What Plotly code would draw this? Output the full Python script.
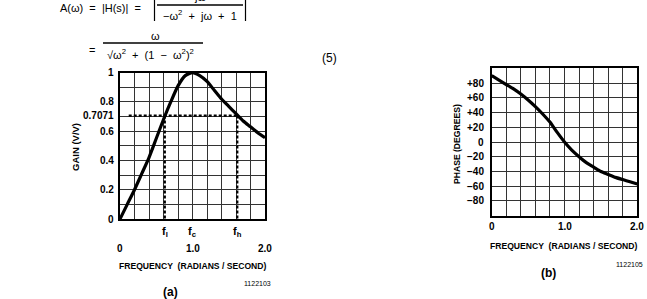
import plotly.graph_objects as go

W, H = 647, 299

# ---------------- data ----------------
freq = [0.0, 0.1, 0.2, 0.3, 0.4, 0.5, 0.6, 0.7, 0.8, 0.9, 1.0,
        1.1, 1.2, 1.3, 1.4, 1.5, 1.6, 1.7, 1.8, 1.9, 2.0]
gain = [0.0, 0.10, 0.20, 0.31, 0.42, 0.55, 0.68, 0.80, 0.91, 0.98, 1.0,
        0.98, 0.94, 0.88, 0.82, 0.77, 0.72, 0.67, 0.63, 0.59, 0.555]
phase = [90, 84, 78, 72, 65, 57, 48, 38, 27, 13, 0,
         -11, -20, -28, -34, -40, -44, -48, -51, -54, -57]

f_low, f_center, f_high = 0.618, 1.0, 1.618
half_power = 0.7071
dash_start = 0.12

gain_tickvals = [1, 0.8, 0.7071, 0.6, 0.4, 0.2, 0]
gain_ticktext = ["1", "0.8", "0.7071", "0.6", "0.4", "0.2", "0"]
phase_tickvals = [80, 60, 40, 20, 0, -20, -40, -60, -80]
phase_ticktext = ["+80", "+60", "+40", "+20", "0", "\u221220", "\u221240", "\u221260", "\u221280"]
freq_tickvals = [0, 1, 2]
freq_ticktext = ["0", "1.0", "2.0"]
f_marks = [f_low, f_center, f_high]
f_marktext = ["f<sub>l</sub>", "f<sub>c</sub>", "f<sub>h</sub>"]


def px(x):
    return x / W


def py(y):
    return 1 - y / H


FONT = "Liberation Sans"
BOLD = dict(family=FONT, size=10, color="black", weight="bold")

fig = go.Figure()

fig.add_trace(go.Scatter(x=freq, y=gain, mode="lines", xaxis="x", yaxis="y",
                         line=dict(color="black", width=3.2, shape="spline", smoothing=0.6),
                         showlegend=False, hoverinfo="skip"))
fig.add_trace(go.Scatter(x=[dash_start, f_high, None, f_low, f_low, None, f_high, f_high],
                         y=[half_power, half_power, None, half_power, 0, None, half_power, 0],
                         mode="lines", xaxis="x", yaxis="y",
                         line=dict(color="black", width=2.2, dash="3px,2px"),
                         showlegend=False, hoverinfo="skip"))
fig.add_trace(go.Scatter(x=freq, y=phase, mode="lines", xaxis="x2", yaxis="y2",
                         line=dict(color="black", width=3.2, shape="spline", smoothing=0.6),
                         showlegend=False, hoverinfo="skip"))

axis_common = dict(showticklabels=False, showgrid=True, gridcolor="#333333", gridwidth=1,
                   showline=True, mirror=True, linecolor="black", linewidth=2,
                   zeroline=False, ticks="", fixedrange=True)

fig.update_layout(
    width=W, height=H, margin=dict(l=0, r=0, t=0, b=0),
    paper_bgcolor="white", plot_bgcolor="white",
    xaxis=dict(domain=[px(120), px(265)], range=[0, 2], tick0=0, dtick=0.2, anchor="y", **axis_common),
    yaxis=dict(domain=[py(219), py(72.7)], range=[0, 1], tick0=0, dtick=0.1, anchor="x", **axis_common),
    xaxis2=dict(domain=[px(491.7), px(637.3)], range=[0, 2], tick0=0, dtick=0.2, anchor="y2", **axis_common),
    yaxis2=dict(domain=[py(215.7), py(68.3)], range=[-100, 100], tick0=-100, dtick=20, anchor="x2", **axis_common),
)

ann = []


def A(**kw):
    d = dict(showarrow=False)
    d.update(kw)
    ann.append(d)


# left chart tick labels
for v, t in zip(gain_tickvals, gain_ticktext):
    A(x=px(116), xref="paper", y=v, yref="y", text=t, xanchor="right", yanchor="middle", font=BOLD)
for v, t in zip(freq_tickvals, freq_ticktext):
    A(x=v, xref="x", y=py(248), yref="paper", text=t, xanchor="center", yanchor="middle", font=BOLD)
for v, t in zip(f_marks, f_marktext):
    A(x=v, xref="x", y=py(232), yref="paper", text=t, xanchor="center", yanchor="middle",
      font=dict(family=FONT, size=11, color="black", weight="bold"))
A(x=px(193), y=py(266), xref="paper", yref="paper", text="FREQUENCY  (RADIANS / SECOND)",
  xanchor="center", yanchor="middle", font=dict(family=FONT, size=8.6, color="black", weight="bold"))
A(x=px(75), y=py(147), xref="paper", yref="paper", text="GAIN (V/V)", textangle=-90,
  xanchor="center", yanchor="middle", font=dict(family=FONT, size=9.5, color="black", weight="bold"))
A(x=px(257), y=py(283), xref="paper", yref="paper", text="1122103",
  xanchor="center", yanchor="middle", font=dict(family=FONT, size=7, color="black"))
A(x=px(170), y=py(292), xref="paper", yref="paper", text="(a)",
  xanchor="center", yanchor="middle", font=dict(family=FONT, size=12, color="black", weight="bold"))

# right chart tick labels
for v, t in zip(phase_tickvals, phase_ticktext):
    A(x=px(486), xref="paper", y=v, yref="y2", text=t, xanchor="right", yanchor="middle", font=BOLD)
for v, t in zip(freq_tickvals, freq_ticktext):
    A(x=v, xref="x2", y=py(226), yref="paper", text=t, xanchor="center", yanchor="middle", font=BOLD)
A(x=px(564), y=py(246), xref="paper", yref="paper", text="FREQUENCY  (RADIANS / SECOND)",
  xanchor="center", yanchor="middle", font=dict(family=FONT, size=8.6, color="black", weight="bold"))
A(x=px(457), y=py(144), xref="paper", yref="paper", text="PHASE (DEGREES)", textangle=-90,
  xanchor="center", yanchor="middle", font=dict(family=FONT, size=8.6, color="black", weight="bold"))
A(x=px(629), y=py(264), xref="paper", yref="paper", text="1122105",
  xanchor="center", yanchor="middle", font=dict(family=FONT, size=7, color="black"))
A(x=px(548), y=py(273), xref="paper", yref="paper", text="(b)",
  xanchor="center", yanchor="middle", font=dict(family=FONT, size=12, color="black", weight="bold"))

# equation
EQ = dict(family=FONT, size=11, color="black")
A(x=px(58), y=py(8), xref="paper", yref="paper", text="A(\u03c9)  =  |H(s)|  =",
  xanchor="left", yanchor="middle", font=EQ)
A(x=px(200), y=py(-3), xref="paper", yref="paper", text="j\u03c9",
  xanchor="center", yanchor="middle", font=EQ)
A(x=px(200), y=py(15), xref="paper", yref="paper",
  text="\u2212\u03c9<sup>2</sup>  +  j\u03c9  +  1",
  xanchor="center", yanchor="middle", font=EQ)
A(x=px(92), y=py(50), xref="paper", yref="paper", text="=",
  xanchor="center", yanchor="middle", font=EQ)
A(x=px(155), y=py(36), xref="paper", yref="paper", text="\u03c9",
  xanchor="center", yanchor="middle", font=EQ)
A(x=px(150), y=py(54), xref="paper", yref="paper",
  text="\u221a\u03c9<sup>2</sup>  +  (1  \u2212  \u03c9<sup>2</sup>)<sup>2</sup>",
  xanchor="center", yanchor="middle", font=EQ)
A(x=px(330), y=py(58), xref="paper", yref="paper", text="(5)",
  xanchor="center", yanchor="middle", font=dict(family=FONT, size=12, color="black"))

fig.update_layout(annotations=ann)

shapes = [
    dict(type="line", xref="paper", yref="paper", x0=px(157), x1=px(243), y0=py(5), y1=py(5),
         line=dict(color="black", width=1.3)),
    dict(type="line", xref="paper", yref="paper", x0=px(154.5), x1=px(154.5), y0=py(0), y1=py(21),
         line=dict(color="black", width=1.2)),
    dict(type="line", xref="paper", yref="paper", x0=px(245.5), x1=px(245.5), y0=py(0), y1=py(21),
         line=dict(color="black", width=1.2)),
    dict(type="line", xref="paper", yref="paper", x0=px(103), x1=px(203), y0=py(43), y1=py(43),
         line=dict(color="black", width=1.3)),
]
fig.update_layout(shapes=shapes)

fig.write_html("out.html")
